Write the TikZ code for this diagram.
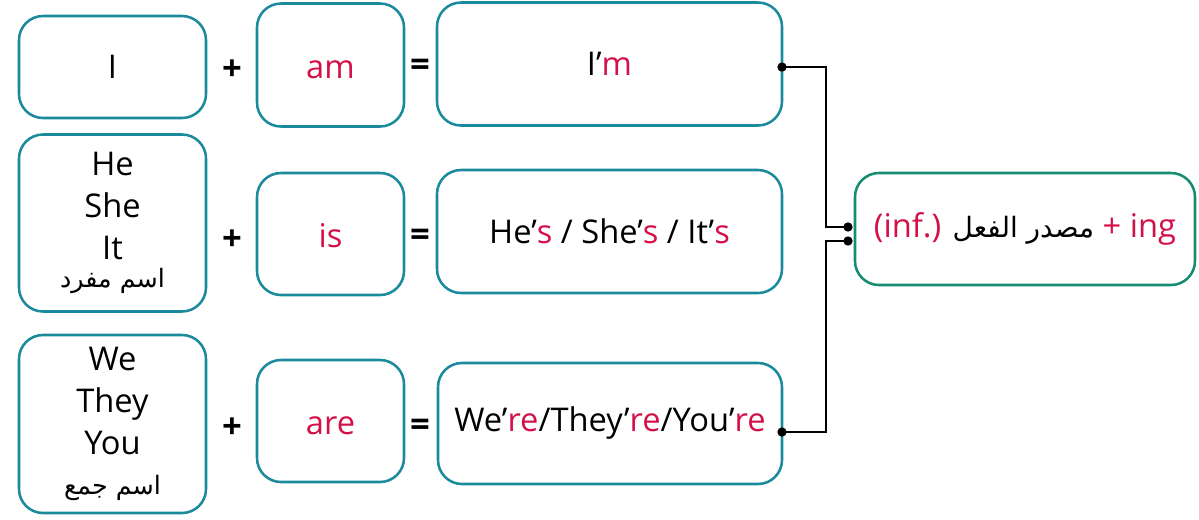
\documentclass[tikz,border=0pt]{standalone}
\usepackage{fontspec}
\setmainfont{Open Sans}
\newfontfamily\arabicfont[Script=Arabic]{DejaVu Sans}
\TeXXeTstate=1
\definecolor{boxteal}{RGB}{27,138,156}
\definecolor{boxgreen}{RGB}{22,140,112}
\definecolor{verbred}{RGB}{212,16,72}
\newcommand{\rd}[1]{\textcolor{verbred}{#1}}
\newcommand{\ar}[1]{{\arabicfont\fontsize{19}{22}\selectfont\beginR #1\endR}}
\tikzset{
  pbox/.style={draw=boxteal, line width=1.9pt, rounded corners=18pt, inner sep=0pt, outer sep=0pt, align=center, font=\fontsize{24.5}{31.5}\selectfont},
  verbbox/.style={pbox, minimum width=110.25pt, minimum height=91.5pt, text height=25pt, text depth=5pt},
  sign/.style={inner sep=0.75pt, font=\fontsize{26}{26}\selectfont\bfseries},
  joint/.style={line width=1.9pt, line cap=round},
  dot/.style={circle, fill=black, inner sep=0pt, minimum size=7pt},
}

\begin{document}
\begin{tikzpicture}[x=0.75pt,y=0.75pt,yscale=-1,xscale=1]
\useasboundingbox (0,0) rectangle (1199,519);

%Row: I am
\node [pbox, minimum width=140.25pt, minimum height=76.5pt] (subjI) at (112.5,67) {I};
\node [verbbox, minimum height=92.25pt] (am) at (330.5,65) {\rd{am}};
\node [pbox, minimum width=258.75pt, minimum height=92.25pt] (Im) at (609.5,64) {I’\rd{m}};
% Text Node
\node [sign] (plusA) at (232,70) {+};
\node [sign] (eqA) at (420,68) {=};

%Row: He She It is
\node [pbox, minimum width=140.25pt, minimum height=132.75pt] (subjHe) at (112.5,223) {He\\She\\It\\[-11pt]\ar{اسم مفرد}};
\node [verbbox] (is) at (330.5,234) {\rd{is}};
\node [pbox, minimum width=258.75pt, minimum height=92.25pt] (Hes) at (609.5,231.5) {He’\rd{s} / She’\rd{s} / It’\rd{s}};
% Text Node
\node [sign] (plusB) at (232,240) {+};
\node [sign] (eqB) at (420,238) {=};

%Row: We They You are
\node [pbox, minimum width=140.25pt, minimum height=133.5pt] (subjWe) at (112.5,424) {We\\They\\You\\[-2pt]\ar{اسم جمع}};
\node [verbbox] (are) at (330.5,421) {\rd{are}};
\node [pbox, minimum width=258pt, minimum height=90.75pt] (Were) at (610,423.5) {We’\rd{re}/They’\rd{re}/You’\rd{re}};
% Text Node
\node [sign] (plusC) at (232,428) {+};
\node [sign] (eqC) at (420,428) {=};

%Result box
\node [pbox, draw=boxgreen, minimum width=255pt, minimum height=84pt] (ing) at (1025,229)
  {\rd{(inf.)} {\arabicfont\fontsize{21}{24}\selectfont\beginR مصدر الفعل\endR} \rd{+ ing}};

%Joints
\coordinate (bendA) at (826,227);
\coordinate (bendB) at (826,241);
\coordinate (inA) at (848,227);
\coordinate (inB) at (848,241);
\draw [joint] ([yshift=2.3pt]Im.east) -| (bendA) -- (inA);
\draw [joint] ([yshift=6.4pt]Were.east) -| (bendB) -- (inB);
\node [dot] at ([yshift=2.3pt]Im.east) {};
\node [dot] at ([yshift=6.4pt]Were.east) {};
\node [dot] at (inA) {};
\node [dot] at (inB) {};

\end{tikzpicture}
\end{document}
